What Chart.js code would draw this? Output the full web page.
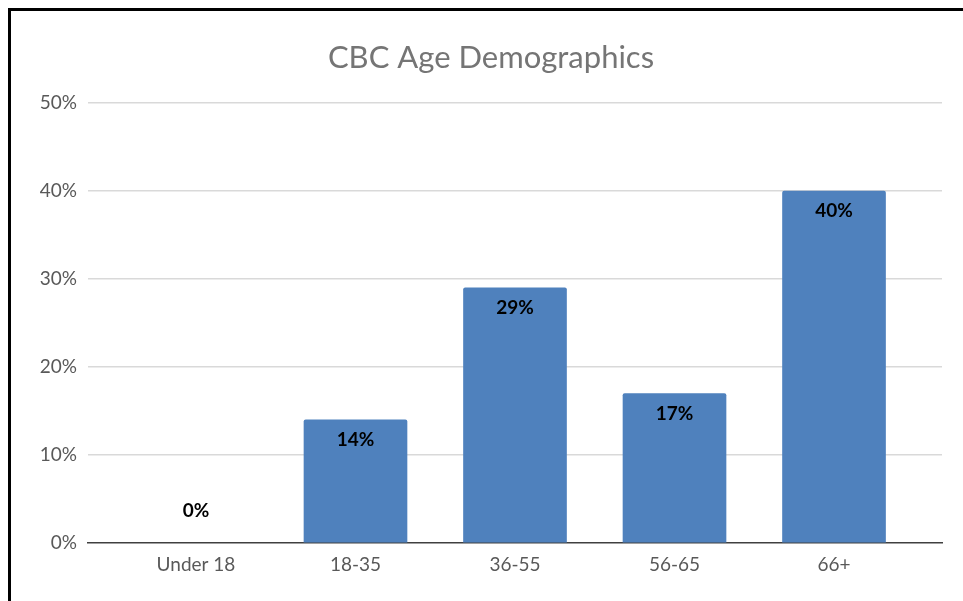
<!DOCTYPE html>
<html>
<head>
<meta charset="utf-8">
<script src="https://cdn.jsdelivr.net/npm/chart.js@4/dist/chart.umd.min.js"></script>
<style>
  html, body { margin: 0; padding: 0; background: #ffffff; overflow: hidden; }
  #wrap { position: relative; width: 963px; height: 601px; }
  #frame { position: absolute; left: 8px; top: 8px; width: 1200px; height: 900px;
           border-top: 3px solid #000; border-left: 3px solid #000; pointer-events: none; }
  canvas { position: absolute; left: 0; top: 0; }
</style>
</head>
<body>
<div id="wrap">
  <canvas id="chart" width="963" height="601"></canvas>
  <div id="frame"></div>
</div>
<script>
// Age groups and share of members in each (percent)
const categories = ['Under 18', '18-35', '36-55', '56-65', '66+'];
const shares = [0, 14, 29, 17, 40];
const yTicks = [0, 10, 20, 30, 40, 50];

const FONT = 'Lato, "Open Sans", sans-serif';

// Writes the value at the inside top of each bar
const barLabels = {
  id: 'barLabels',
  afterDatasetsDraw(chart) {
    const ctx = chart.ctx;
    const meta = chart.getDatasetMeta(0);
    ctx.save();
    ctx.font = 'bold 19px ' + FONT;
    ctx.fillStyle = '#000000';
    ctx.textAlign = 'center';
    ctx.textBaseline = 'middle';
    meta.data.forEach((bar, i) => {
      const v = shares[i];
      const y = v > 0 ? bar.y + 20 : bar.base - 32;
      ctx.fillText(v + '%', bar.x, y);
    });
    ctx.restore();
  }
};

new Chart(document.getElementById('chart'), {
  type: 'bar',
  data: {
    datasets: [{
      data: shares.map((v, i) => ({ x: i, y: v })),
      backgroundColor: (c) => (c.raw && c.raw.y > 0) ? '#4F81BD' : 'rgba(0,0,0,0)',
      borderWidth: 0,
      borderRadius: { topLeft: 2, topRight: 2, bottomLeft: 0, bottomRight: 0 },
      borderSkipped: 'bottom',
      barThickness: 103
    }]
  },
  options: {
    responsive: false,
    animation: false,
    layout: { padding: { left: 40, right: 21, top: 0, bottom: 0 } },
    plugins: {
      legend: { display: false },
      tooltip: { enabled: false },
      title: {
        display: true,
        text: 'CBC Age Demographics',
        color: '#757575',
        font: { family: FONT, size: 31, weight: 'normal' },
        padding: { top: 39, bottom: 27 }
      }
    },
    scales: {
      x: {
        type: 'linear',
        offset: false,
        min: -0.677,
        max: 4.677,
        afterBuildTicks(scale) {
          scale.ticks = categories.map((c, i) => ({ value: i }));
        },
        afterFit(scale) { scale.height = 58; },
        grid: { display: false, drawTicks: false, offset: false },
        border: { display: true, color: '#404040', width: 1.5 },
        ticks: {
          padding: 10,
          color: '#595959',
          font: { family: FONT, size: 19 },
          autoSkip: false,
          maxRotation: 0,
          callback: (v) => categories[v]
        }
      },
      y: {
        min: 0,
        max: 50,
        afterBuildTicks(scale) {
          scale.ticks = yTicks.map(v => ({ value: v }));
        },
        afterFit(scale) { scale.width = 48; },
        grid: {
          drawTicks: false,
          color: (c) => c.tick && c.tick.value === 0 ? 'rgba(0,0,0,0)' : '#d9d9d9',
          lineWidth: 1.5
        },
        border: { display: false },
        ticks: {
          padding: 11,
          color: '#595959',
          font: { family: FONT, size: 19 },
          callback: (v) => v + '%'
        }
      }
    }
  },
  plugins: [barLabels]
});
</script>
</body>
</html>
